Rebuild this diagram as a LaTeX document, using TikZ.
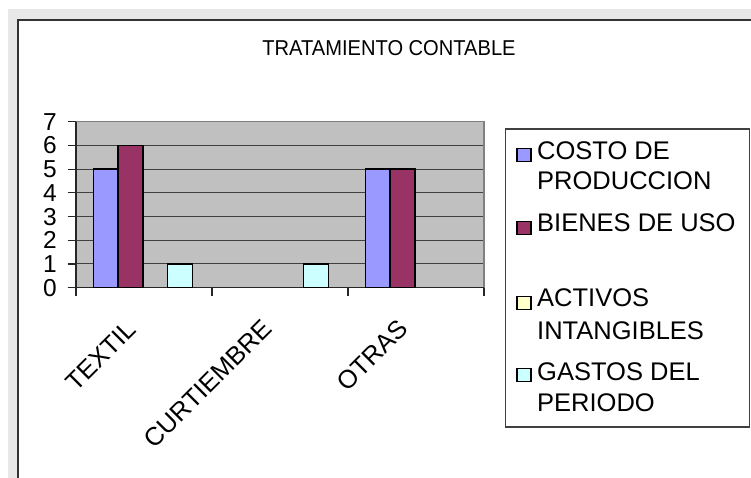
\documentclass[tikz,border=0pt]{standalone}
\usepackage{fontspec}
\setmainfont{Liberation Sans}
\definecolor{outergray}{HTML}{E8E8E8}
\definecolor{plotbg}{HTML}{C0C0C0}
\definecolor{serA}{HTML}{9999FF}
\definecolor{serB}{HTML}{993366}
\definecolor{serC}{HTML}{FFFFCC}
\definecolor{serD}{HTML}{CCFFFF}
\begin{document}
\begin{tikzpicture}[x=1pt,y=-1pt,
  framestyle/.style={draw=black!80,line width=2pt},
  gridstyle/.style={draw=black!75,line width=1pt},
  borderstyle/.style={draw=black!50,line width=1.2pt},
  axisstyle/.style={draw=black!85,line width=1.2pt},
  barbox/.style={draw=black,line width=1.4pt},
  ticklab/.style={anchor=east,inner sep=0pt,font=\fontsize{24.5}{24.5}\selectfont},
  catlab/.style={anchor=south east,inner sep=0pt,rotate=45,font=\fontsize{25.5}{25.5}\selectfont},
  leglab/.style={anchor=base west,inner sep=0pt,font=\fontsize{25.5}{25.5}\selectfont},
  legmark/.style={draw=black,line width=1.2pt,minimum width=14pt,minimum height=13pt,inner sep=0pt}]
\useasboundingbox (0,0) rectangle (751,478);
% background and frame
\fill[outergray] (8,9) rectangle (751,478);
\fill[white] (18,20) rectangle (751,478);
\draw[framestyle] (18,478) -- (18,20) -- (751,20);
% title
\node[anchor=base,inner sep=0pt] (title) at (389,55.7)
  {\scalebox{0.935}[1]{\fontsize{21.5}{21.5}\selectfont TRATAMIENTO CONTABLE}};
% plot area
\def\yz{287.7}
\def\u{23.71}
\fill[plotbg] (76,121.7) rectangle (484,287.7);
\foreach \k in {1,...,6} {
  \draw[gridstyle] (76,\yz-\k*\u) -- (484,\yz-\k*\u);
}
\draw[borderstyle] (76,121.7) -- (484,121.7) -- (484,287.7);
% y ticks and labels
\foreach \k in {0,...,7} {
  \draw[axisstyle] (67.7,\yz-\k*\u) -- (76,\yz-\k*\u);
  \node[ticklab] (y\k) at (57,\yz-\k*\u) {\k};
}
% axes
\draw[axisstyle] (76,121.7) -- (76,295.5);
\draw[axisstyle] (67.7,\yz) -- (484,\yz);
\foreach \xx in {212,348,484} {
  \draw[axisstyle] (\xx,\yz) -- (\xx,295.5);
}
% bars
\def\bw{24.75}
\foreach \xs/\v/\c in {93.3/5/serA, 118.05/6/serB, 167.55/1/serD,
                        303.55/1/serD,
                        365.3/5/serA, 390.05/5/serB} {
  \filldraw[barbox,fill=\c] (\xs,\yz) rectangle (\xs+\bw,\yz-\v*\u);
}
% category labels
\node[catlab] (cat1) at (138,331) {TEXTIL};
\node[catlab] (cat2) at (274,331) {CURTIEMBRE};
\node[catlab] (cat3) at (410,331) {OTRAS};
% legend
\draw[draw=black!75,line width=1.2pt] (505.3,129) rectangle (749.3,427);
\node[legmark,fill=serA] (m1) at (524,154.7) {};
\node[legmark,fill=serB] (m2) at (524,228.3) {};
\node[legmark,fill=serC] (m3) at (524,303.3) {};
\node[legmark,fill=serD] (m4) at (524,375.3) {};
\node[leglab] (l1a) at (537,160) {COSTO DE};
\node[leglab] (l1b) at (537,190) {PRODUCCION};
\node[leglab] (l2a) at (537,231.7) {BIENES DE USO};
\node[leglab] (l3a) at (537,306.7) {ACTIVOS};
\node[leglab] (l3b) at (537,339.3) {INTANGIBLES};
\node[leglab] (l4a) at (537,380) {GASTOS DEL};
\node[leglab] (l4b) at (537,411.7) {PERIODO};
\end{tikzpicture}
\end{document}
